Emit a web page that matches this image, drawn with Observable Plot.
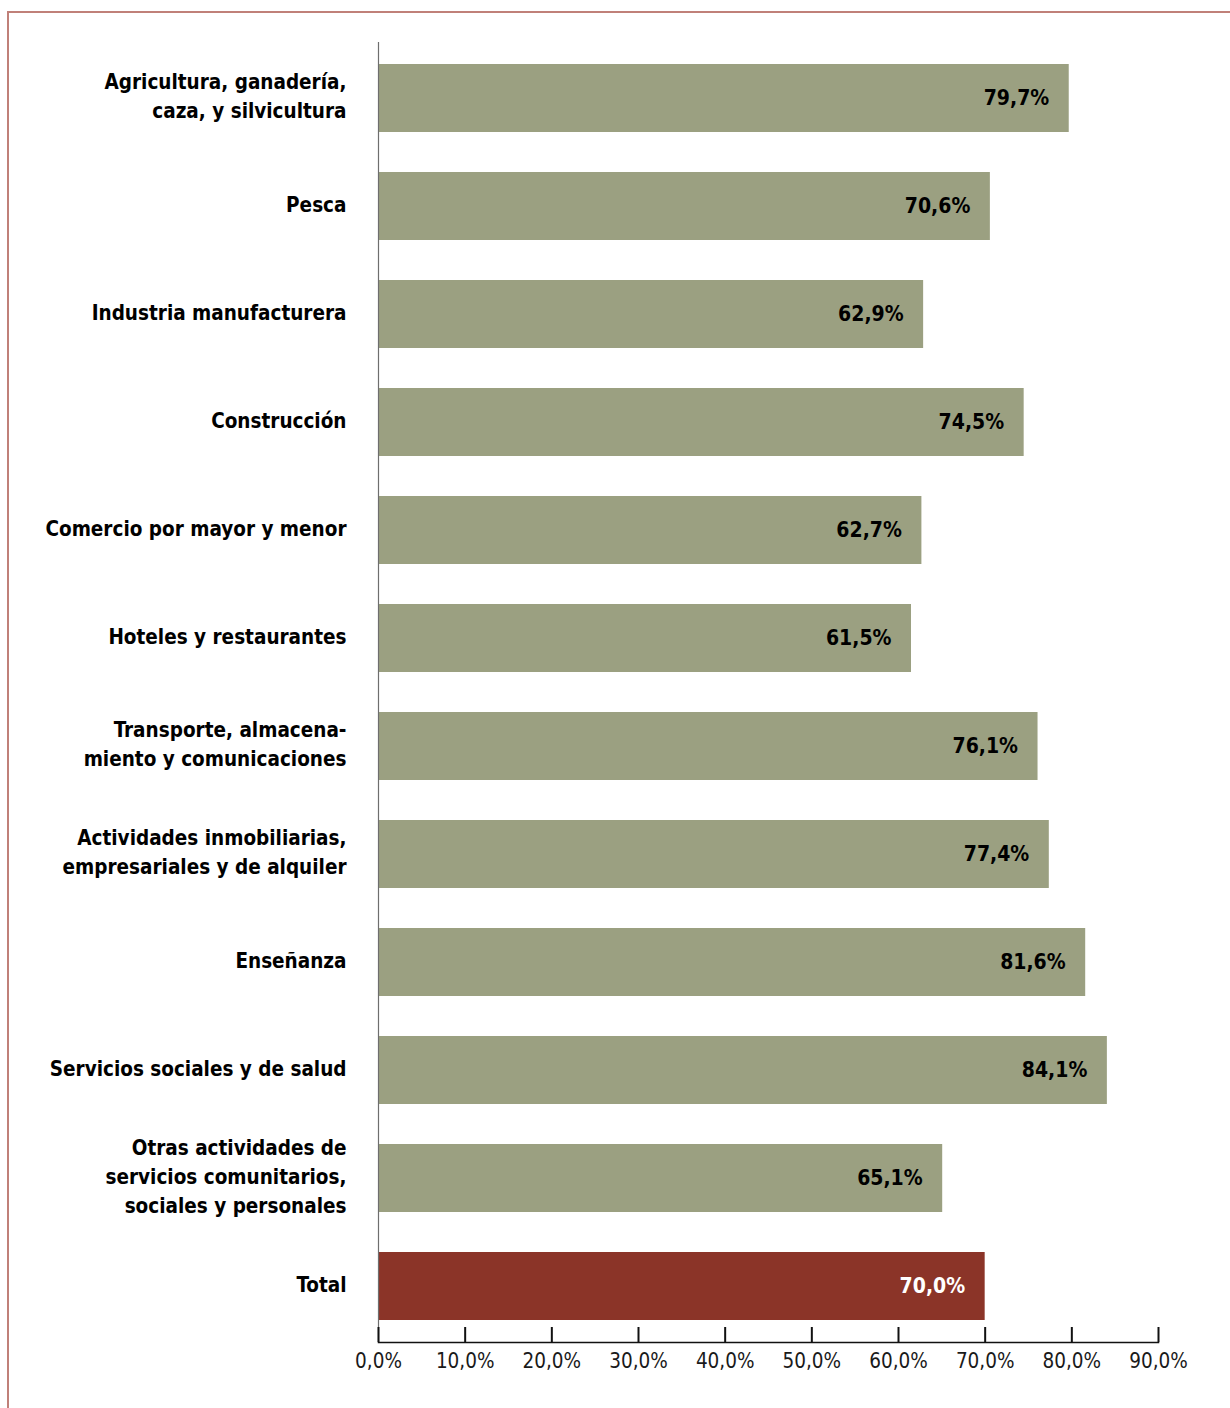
<!DOCTYPE html>
<html>
<head>
<meta charset="utf-8">
<script src="https://cdn.jsdelivr.net/npm/d3@7"></script>
<script src="https://cdn.jsdelivr.net/npm/@observablehq/plot@0.6"></script>
<style>
  html, body { margin: 0; padding: 0; background: #fff; }
  #wrap { position: relative; width: 1230px; height: 1408px; overflow: hidden; }
  #border { position: absolute; left: 7px; top: 11px; right: -5px; bottom: -5px;
    border-left: 2px solid #c08079; border-top: 2px solid #c08079; pointer-events: none; }
  #chart { position: absolute; left: 0; top: 0; }
</style>
</head>
<body>
<div id="wrap"><div id="chart"></div><div id="border"></div></div>
<script>
const categories = [
  "Agricultura, ganadería,\ncaza, y silvicultura",
  "Pesca",
  "Industria manufacturera",
  "Construcción",
  "Comercio por mayor y menor",
  "Hoteles y restaurantes",
  "Transporte, almacena-\nmiento y comunicaciones",
  "Actividades inmobiliarias,\nempresariales y de alquiler",
  "Enseñanza",
  "Servicios sociales y de salud",
  "Otras actividades de\nservicios comunitarios,\nsociales y personales",
  "Total"
];
const values = [79.7, 70.6, 62.9, 74.5, 62.7, 61.5, 76.1, 77.4, 81.6, 84.1, 65.1, 70.0];
const xTicks = [0, 10, 20, 30, 40, 50, 60, 70, 80, 90];

const data = categories.map((c, i) => ({cat: c, value: values[i], total: c === "Total"}));
const fmt = v => v.toFixed(1).replace(".", ",") + "%";
const font = "'DejaVu Sans Condensed', 'DejaVu Sans', sans-serif";

const chart = Plot.plot({
  width: 1230,
  height: 1408,
  marginLeft: 378,
  marginRight: 72,
  marginTop: 42,
  marginBottom: 66,
  style: {fontFamily: font, background: "transparent", fontStretch: "semi-condensed"},
  x: {domain: [0, 90], ticks: xTicks, tickFormat: fmt, label: null},
  y: {domain: categories, paddingInner: 0.367, paddingOuter: 0.1835, axis: null},
  marks: [
    Plot.barX(data, {y: "cat", x: "value", fill: d => d.total ? "#8b3428" : "#9ba081"}),
    Plot.ruleX([0], {stroke: "#6e6e6e", strokeWidth: 1.2}),
    Plot.frame({anchor: "bottom", stroke: "#111", strokeWidth: 1.5}),
    Plot.tickX(xTicks, {x: d => d, insetTop: 1285, stroke: "#111", strokeWidth: 2}),
    Plot.axisX({ticks: xTicks, tickFormat: fmt, tickSize: 0, tickPadding: 11, fontSize: 20.5, fill: "#1a1a1a", label: null}),
    Plot.text(data, {y: "cat", text: "cat", frameAnchor: "left", dx: -32, dy: -4, textAnchor: "end",
      fontSize: 20.5, fontWeight: "bold", fill: "#000", lineHeight: 1.41}),
    Plot.text(data, {y: "cat", x: "value", text: d => fmt(d.value), textAnchor: "end", dx: -20,
      fontSize: 21, fontWeight: "bold", fill: d => d.total ? "#fff" : "#000"})
  ]
});
document.getElementById("chart").appendChild(chart);
</script>
</body>
</html>
